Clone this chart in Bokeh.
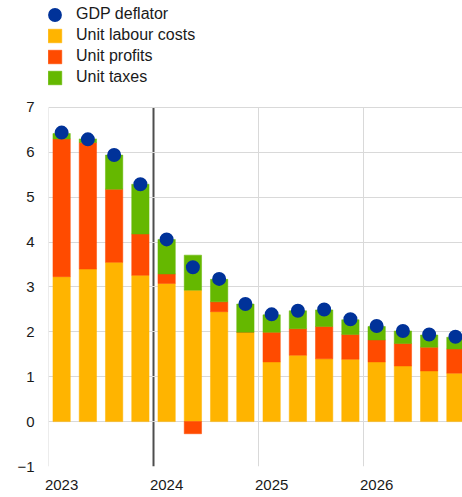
import numpy as np
from bokeh.plotting import figure
from bokeh.models import ColumnDataSource, FixedTicker, Legend, LegendItem
from bokeh.embed import file_html
from bokeh.resources import INLINE

quarters = ["2023Q1", "2023Q2", "2023Q3", "2023Q4",
            "2024Q1", "2024Q2", "2024Q3", "2024Q4",
            "2025Q1", "2025Q2", "2025Q3", "2025Q4",
            "2026Q1", "2026Q2", "2026Q3", "2026Q4"]
years = ["2023", "2024", "2025", "2026"]
labour = [3.23, 3.40, 3.55, 3.26, 3.08, 2.93, 2.45, 1.99, 1.33, 1.48, 1.40, 1.39, 1.33, 1.24, 1.13, 1.08]
profits = [3.07, 2.82, 1.63, 0.92, 0.21, -0.27, 0.22, 0.00, 0.66, 0.59, 0.72, 0.55, 0.49, 0.50, 0.53, 0.54]
taxes = [0.12, 0.08, 0.76, 1.11, 0.77, 0.78, 0.50, 0.63, 0.39, 0.40, 0.37, 0.33, 0.30, 0.28, 0.27, 0.26]
deflator = [6.44, 6.29, 5.94, 5.29, 4.06, 3.44, 3.18, 2.62, 2.39, 2.47, 2.50, 2.28, 2.13, 2.02, 1.94, 1.89]
y_ticks = [-1, 0, 1, 2, 3, 4, 5, 6, 7]

names = ["Unit labour costs", "Unit profits", "Unit taxes"]
colors = ["#FFB400", "#FF4B00", "#65B800"]
BLUE = "#003299"
FONT = "Liberation Sans"

n = len(quarters)
x = np.arange(n) + 0.5

p = figure(width=462, height=497, x_range=(0, 15.77), y_range=(-1, 9.384),
           output_backend="svg", toolbar_location=None,
           min_border_left=48, min_border_right=0, min_border_top=0, min_border_bottom=31)
p.outline_line_color = None
p.background_fill_color = "white"
p.xgrid.visible = False

# year boundary lines (limited to the value axis extent)
bounds = [4 * i for i in range(len(years))]
light = [b for b in bounds if b != 4]
p.segment(x0=light, x1=light, y0=[y_ticks[0]] * len(light), y1=[y_ticks[-1]] * len(light),
          line_color="#d9d9d9", line_width=1, level="underlay")
p.segment(x0=[4], x1=[4], y0=[y_ticks[0]], y1=[y_ticks[-1]],
          line_color="#4d4d4d", line_width=2, level="underlay")

pos = np.zeros(n)
neg = np.zeros(n)
bar_renderers = []
for s, c in zip([labour, profits, taxes], colors):
    s = np.array(s, dtype=float)
    b = np.where(s >= 0, pos, neg)
    t = b + s
    pos = np.where(s >= 0, t, pos)
    neg = np.where(s < 0, t, neg)
    src = ColumnDataSource(dict(x=x, bottom=b, top=t))
    r = p.vbar(x="x", bottom="bottom", top="top", width=0.66, source=src,
               fill_color=c, line_color=c, line_width=0.5)
    bar_renderers.append(r)

dot = p.scatter(x=x, y=deflator, size=7, fill_color=BLUE, line_color=BLUE, line_width=7)

p.ygrid.ticker = FixedTicker(ticks=y_ticks)
p.ygrid.grid_line_color = "#d9d9d9"
p.ygrid.grid_line_width = 1

p.yaxis.ticker = FixedTicker(ticks=y_ticks)
p.xaxis.ticker = FixedTicker(ticks=[4 * i + 0.5 for i in range(len(years))])
p.xaxis.major_label_overrides = {4 * i + 0.5: yr for i, yr in enumerate(years)}
for ax in (p.xaxis, p.yaxis):
    ax.axis_line_color = None
    ax.major_tick_line_color = None
    ax.minor_tick_line_color = None
    ax.major_tick_out = 0
    ax.major_tick_in = 0
    ax.major_label_text_font = FONT
    ax.major_label_text_font_size = "15px"
    ax.major_label_text_color = "#1a1a1a"
p.yaxis.major_label_standoff = 14
p.xaxis.major_label_standoff = 13

items = [LegendItem(label="GDP deflator", renderers=[dot])]
for nm, r in zip(names, bar_renderers):
    items.append(LegendItem(label=nm, renderers=[r]))
legend = Legend(items=items, location=(-2, 380), orientation="vertical",
                margin=0, padding=0, spacing=3, glyph_width=17, glyph_height=17,
                label_height=17, label_standoff=13,
                label_text_font=FONT, label_text_font_size="16px", label_text_color="#1a1a1a",
                border_line_color=None, background_fill_alpha=0)
p.add_layout(legend)

open("out.html", "w").write(file_html(p, INLINE))
